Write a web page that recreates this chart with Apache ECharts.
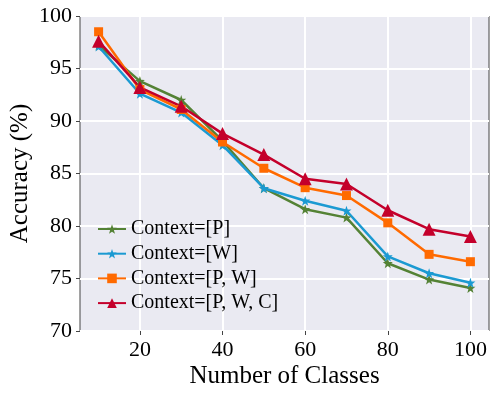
<!DOCTYPE html>
<html>
<head>
<meta charset="utf-8">
<script src="https://cdn.jsdelivr.net/npm/echarts@6/dist/echarts.min.js"></script>
<style>
  html, body { margin: 0; padding: 0; background: #fff; }
  #main { width: 498px; height: 398px; }
</style>
</head>
<body>
<div id="main"></div>
<script>
const classes = [10, 20, 30, 40, 50, 60, 70, 80, 90, 100];
const accP = [97.2, 93.8, 92.0, 88.1, 83.6, 81.6, 80.8, 76.45, 74.9, 74.1];
const accW = [97.1, 92.6, 90.8, 87.7, 83.6, 82.4, 81.45, 77.1, 75.5, 74.6];
const accPW = [98.5, 93.0, 91.1, 88.0, 85.5, 83.65, 82.9, 80.3, 77.3, 76.6];
const accPWC = [97.6, 93.2, 91.4, 88.8, 86.8, 84.5, 84.0, 81.5, 79.7, 79.0];
const xTicks = [20, 40, 60, 80, 100];

const font = 'Liberation Serif, Times New Roman, serif';
const star = 'path://M0,-10 L2.35,-3.24 L9.51,-3.09 L3.8,1.24 L5.88,8.09 L0,4 L-5.88,8.09 L-3.8,1.24 L-9.51,-3.09 L-2.35,-3.24 Z';

function pairs(ys) {
  return classes.map((x, i) => [x, ys[i]]);
}

function line(name, ys, color, symbol, size) {
  return {
    name: name,
    type: 'line',
    data: pairs(ys),
    symbol: symbol,
    symbolSize: size,
    showAllSymbol: true,
    lineStyle: { color: color, width: 2.5 },
    itemStyle: { color: color },
    animation: false
  };
}

let chart = echarts.init(document.getElementById('main'), null, { renderer: 'canvas' });
chart.setOption({
  animation: false,
  grid: {
    left: 80, right: 9, top: 16, bottom: 67,
    outerBoundsMode: 'none',
    containLabel: false,
    show: true,
    backgroundColor: '#EAEAF2',
    borderColor: '#444',
    borderWidth: 1
  },
  legend: {
    orient: 'vertical',
    left: 92,
    top: 214,
    itemWidth: 28,
    itemHeight: 12,
    itemGap: 4.7,
    textStyle: { fontFamily: font, fontSize: 20, color: '#000' },
    data: ['Context=[P]', 'Context=[W]', 'Context=[P, W]', 'Context=[P, W, C]']
  },
  xAxis: {
    type: 'value',
    min: 5.5,
    max: 104.5,
    name: 'Number of Classes',
    nameLocation: 'middle',
    nameGap: 33,
    nameMoveOverlap: false,
    nameTextStyle: { fontFamily: font, fontSize: 25, color: '#000' },
    axisLine: { show: false },
    axisTick: { show: true, length: 4, lineStyle: { color: '#444' }, customValues: xTicks },
    axisLabel: { fontFamily: font, fontSize: 22, color: '#000', margin: 8, customValues: xTicks },
    splitLine: { show: true, lineStyle: { color: '#fff', width: 2 } }
  },
  yAxis: {
    type: 'value',
    min: 70,
    max: 100,
    interval: 5,
    name: 'Accuracy (%)',
    nameLocation: 'middle',
    nameGap: 47,
    nameMoveOverlap: false,
    nameTextStyle: { fontFamily: font, fontSize: 25, color: '#000' },
    axisLine: { show: false },
    axisTick: { show: true, length: 4, lineStyle: { color: '#444' } },
    axisLabel: { fontFamily: font, fontSize: 22, color: '#000', margin: 8 },
    splitLine: { show: true, lineStyle: { color: '#fff', width: 2 } }
  },
  series: [
    line('Context=[P]', accP, '#548235', star, 10),
    line('Context=[W]', accW, '#1B9AD2', star, 10),
    line('Context=[P, W]', accPW, '#FF6A00', 'rect', 9),
    line('Context=[P, W, C]', accPWC, '#C4002B', 'triangle', 13)
  ]
});
</script>
</body>
</html>
